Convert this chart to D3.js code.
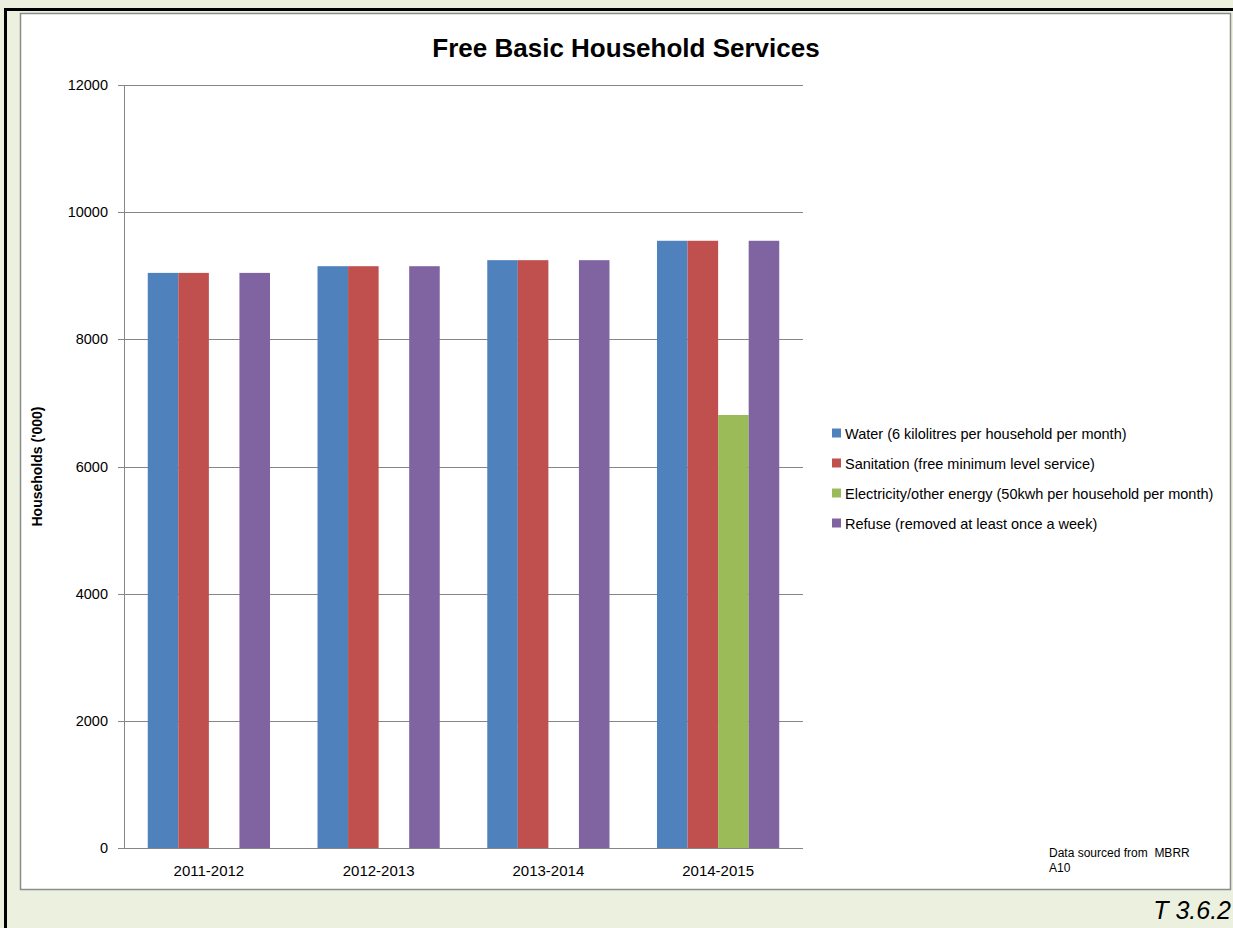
<!DOCTYPE html>
<html>
<head>
<meta charset="utf-8">
<script src="https://cdn.jsdelivr.net/npm/d3@7"></script>
<style>
  body { margin: 0; background: #ebf1de; }
  svg { display: block; font-family: "Liberation Sans", Arial, sans-serif; }
</style>
</head>
<body>
<script>
// chart data
let years = ["2011-2012", "2012-2013", "2013-2014", "2014-2015"]

let seriesNames = ["Water (6 kilolitres per household per month)",
    "Sanitation (free minimum level service)",
    "Electricity/other energy (50kwh per household per month)",
    "Refuse (removed at least once a week)"]

let water = [9045, 9150, 9245, 9550]
let sanitation = [9045, 9150, 9245, 9550]
let electricity = [0, 0, 0, 6810]
let refuse = [9045, 9150, 9245, 9550]

let yTicks = [0, 2000, 4000, 6000, 8000, 10000, 12000]

let colors = ["#4f81bd", "#c0504d", "#9bbb59", "#8064a2"]

let series = [water, sanitation, electricity, refuse]

var W = 1233, H = 928;
var plot = { left: 124, right: 803, top: 85, bottom: 848 };

var svg = d3.select("body").append("svg")
    .attr("width", W)
    .attr("height", H);

// outer frame (cut by the window at right/bottom)
svg.append("rect")
    .attr("x", 5.5).attr("y", 9.5)
    .attr("width", 1240).attr("height", 940)
    .attr("fill", "#ebf1de")
    .attr("stroke", "#000")
    .attr("stroke-width", 3);

// chart area
svg.append("rect")
    .attr("x", 20.5).attr("y", 13.5)
    .attr("width", 1210).attr("height", 876)
    .attr("fill", "#fff")
    .attr("stroke", "#8c8c8c")
    .attr("stroke-width", 1.5);

svg.append("text")
    .attr("x", 626).attr("y", 57)
    .attr("text-anchor", "middle")
    .style("font-size", "26px")
    .style("font-weight", "bold")
    .text("Free Basic Household Services");

var x0 = d3.scaleBand()
    .domain(years)
    .range([plot.left, plot.right])
    .paddingInner(0.28)
    .paddingOuter(0.14);

var x1 = d3.scaleBand()
    .domain(d3.range(series.length))
    .range([0, x0.bandwidth()]);

var y = d3.scaleLinear()
    .domain([0, 12000])
    .range([plot.bottom, plot.top]);

// gridlines
svg.append("g")
    .selectAll("line")
    .data(yTicks)
    .enter().append("line")
    .attr("x1", plot.left - 6)
    .attr("x2", plot.right)
    .attr("y1", d => Math.round(y(d)) + 0.5)
    .attr("y2", d => Math.round(y(d)) + 0.5)
    .attr("stroke", "#868686")
    .attr("stroke-width", 1);

// y axis line
svg.append("line")
    .attr("x1", plot.left + 0.5).attr("x2", plot.left + 0.5)
    .attr("y1", plot.top).attr("y2", plot.bottom)
    .attr("stroke", "#868686");

svg.append("g")
    .selectAll("text")
    .data(yTicks)
    .enter().append("text")
    .attr("x", 108)
    .attr("y", d => y(d) + 5)
    .attr("text-anchor", "end")
    .style("font-size", "14.5px")
    .text(d => d);

svg.append("text")
    .attr("transform", "translate(42," + ((plot.top + plot.bottom) / 2) + ") rotate(-90)")
    .attr("text-anchor", "middle")
    .style("font-size", "14px")
    .style("font-weight", "bold")
    .text("Households ('000)");

// bars
var groups = svg.append("g")
    .selectAll("g")
    .data(years)
    .enter().append("g")
    .attr("transform", d => "translate(" + x0(d) + ",0)");

groups.selectAll("rect")
    .data((d, i) => series.map((s, k) => ({ k: k, v: s[i] })))
    .enter().append("rect")
    .attr("x", d => x1(d.k))
    .attr("width", x1.bandwidth())
    .attr("y", d => y(d.v))
    .attr("height", d => y(0) - y(d.v))
    .attr("fill", d => colors[d.k]);

// category labels
svg.append("g")
    .selectAll("text")
    .data(years)
    .enter().append("text")
    .attr("x", d => x0(d) + x0.bandwidth() / 2)
    .attr("y", 876)
    .attr("text-anchor", "middle")
    .style("font-size", "15px")
    .text(d => d);

// legend
var legend = svg.append("g")
    .selectAll("g")
    .data(seriesNames)
    .enter().append("g")
    .attr("transform", (d, i) => "translate(832," + (433 + i * 30) + ")");

legend.append("rect")
    .attr("x", 0).attr("y", -4.5)
    .attr("width", 9).attr("height", 9)
    .attr("fill", (d, i) => colors[i]);

legend.append("text")
    .attr("x", 13).attr("y", 5.5)
    .style("font-size", "14.5px")
    .text(d => d);

// source note
svg.append("text")
    .attr("x", 1049).attr("y", 857)
    .attr("xml:space", "preserve")
    .style("white-space", "pre")
    .style("font-size", "12px")
    .text("Data sourced from  MBRR");
svg.append("text")
    .attr("x", 1049).attr("y", 872)
    .style("font-size", "12px")
    .text("A10");

svg.append("text")
    .attr("x", 1231).attr("y", 919)
    .attr("text-anchor", "end")
    .style("font-size", "25px")
    .style("font-style", "italic")
    .text("T 3.6.2");
</script>
</body>
</html>
